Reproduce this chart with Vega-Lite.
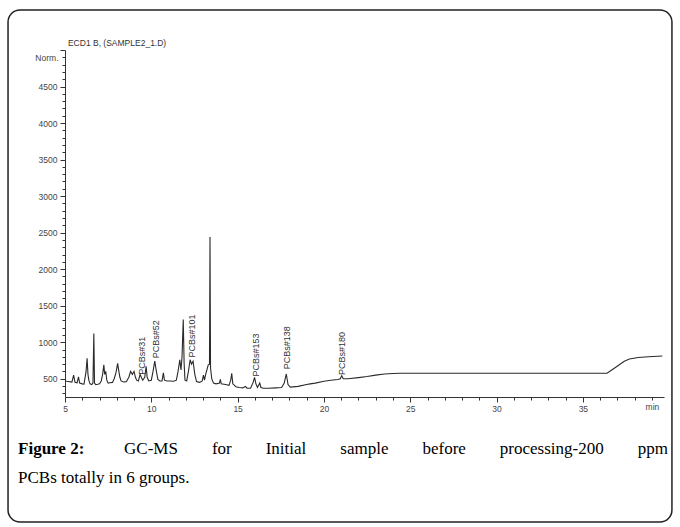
{
  "$schema": "https://vega.github.io/schema/vega-lite/v6.json",
  "width": 599,
  "height": 347,
  "autosize": {"type": "none"},
  "padding": {"left": 65, "top": 50, "right": 16, "bottom": 130},
  "background": "white",
  "config": {
    "view": {"stroke": null},
    "axis": {"grid": false, "domainColor": "#333", "tickColor": "#333", "labelColor": "#444", "labelFont": "Liberation Sans", "labelFontSize": 8.5, "titleFont": "Liberation Sans", "labelOverlap": false, "labelFlush": false, "labelBound": false}
  },
  "datasets": {
    "signal": [
      {"t": 5.00, "v": 470}, {"t": 5.10, "v": 465}, {"t": 5.40, "v": 455}, {"t": 5.50, "v": 550}, {"t": 5.58, "v": 450},
      {"t": 5.70, "v": 445}, {"t": 5.78, "v": 525}, {"t": 5.85, "v": 440}, {"t": 6.00, "v": 430}, {"t": 6.10, "v": 425},
      {"t": 6.22, "v": 600}, {"t": 6.28, "v": 780}, {"t": 6.33, "v": 560}, {"t": 6.38, "v": 480}, {"t": 6.45, "v": 430},
      {"t": 6.55, "v": 420}, {"t": 6.62, "v": 440}, {"t": 6.67, "v": 1120}, {"t": 6.71, "v": 440}, {"t": 6.78, "v": 420},
      {"t": 6.90, "v": 425}, {"t": 7.00, "v": 430}, {"t": 7.10, "v": 470}, {"t": 7.18, "v": 560}, {"t": 7.25, "v": 690},
      {"t": 7.30, "v": 560}, {"t": 7.36, "v": 600}, {"t": 7.42, "v": 480}, {"t": 7.50, "v": 440}, {"t": 7.60, "v": 445},
      {"t": 7.75, "v": 450}, {"t": 7.85, "v": 500}, {"t": 7.95, "v": 580}, {"t": 8.05, "v": 710}, {"t": 8.12, "v": 600},
      {"t": 8.18, "v": 520}, {"t": 8.25, "v": 470}, {"t": 8.40, "v": 455}, {"t": 8.55, "v": 460}, {"t": 8.70, "v": 520},
      {"t": 8.80, "v": 600}, {"t": 8.90, "v": 560}, {"t": 9.00, "v": 600}, {"t": 9.08, "v": 520}, {"t": 9.15, "v": 480},
      {"t": 9.25, "v": 470}, {"t": 9.35, "v": 560}, {"t": 9.42, "v": 520}, {"t": 9.50, "v": 480}, {"t": 9.62, "v": 520},
      {"t": 9.70, "v": 670}, {"t": 9.76, "v": 520}, {"t": 9.85, "v": 470}, {"t": 10.00, "v": 480}, {"t": 10.10, "v": 600},
      {"t": 10.20, "v": 740}, {"t": 10.28, "v": 620}, {"t": 10.38, "v": 490}, {"t": 10.50, "v": 470}, {"t": 10.62, "v": 470},
      {"t": 10.70, "v": 580}, {"t": 10.76, "v": 480}, {"t": 10.90, "v": 470}, {"t": 11.10, "v": 470}, {"t": 11.30, "v": 465},
      {"t": 11.45, "v": 480}, {"t": 11.55, "v": 600}, {"t": 11.65, "v": 760}, {"t": 11.72, "v": 620}, {"t": 11.78, "v": 800},
      {"t": 11.85, "v": 1310}, {"t": 11.90, "v": 720}, {"t": 11.95, "v": 480}, {"t": 12.05, "v": 470}, {"t": 12.15, "v": 600},
      {"t": 12.25, "v": 760}, {"t": 12.33, "v": 700}, {"t": 12.42, "v": 740}, {"t": 12.52, "v": 560}, {"t": 12.62, "v": 460},
      {"t": 12.80, "v": 450}, {"t": 12.95, "v": 470}, {"t": 13.02, "v": 550}, {"t": 13.08, "v": 480}, {"t": 13.15, "v": 560},
      {"t": 13.22, "v": 620}, {"t": 13.30, "v": 690}, {"t": 13.37, "v": 700}, {"t": 13.40, "v": 2440}, {"t": 13.43, "v": 650},
      {"t": 13.50, "v": 500}, {"t": 13.60, "v": 440}, {"t": 13.75, "v": 430}, {"t": 13.95, "v": 440}, {"t": 14.00, "v": 490},
      {"t": 14.05, "v": 430}, {"t": 14.30, "v": 420}, {"t": 14.50, "v": 410}, {"t": 14.60, "v": 480}, {"t": 14.66, "v": 575},
      {"t": 14.72, "v": 430}, {"t": 14.90, "v": 390}, {"t": 15.10, "v": 380}, {"t": 15.30, "v": 375}, {"t": 15.45, "v": 395},
      {"t": 15.55, "v": 370}, {"t": 15.75, "v": 370}, {"t": 15.90, "v": 450}, {"t": 15.98, "v": 520}, {"t": 16.06, "v": 430},
      {"t": 16.15, "v": 380}, {"t": 16.28, "v": 440}, {"t": 16.35, "v": 380}, {"t": 16.50, "v": 370}, {"t": 16.80, "v": 370},
      {"t": 17.20, "v": 375}, {"t": 17.55, "v": 380}, {"t": 17.70, "v": 440}, {"t": 17.82, "v": 565}, {"t": 17.92, "v": 420},
      {"t": 18.05, "v": 385}, {"t": 18.50, "v": 395}, {"t": 19.00, "v": 420}, {"t": 19.20, "v": 430}, {"t": 19.50, "v": 440},
      {"t": 20.00, "v": 465}, {"t": 20.40, "v": 480}, {"t": 20.80, "v": 490}, {"t": 20.95, "v": 500}, {"t": 21.03, "v": 540},
      {"t": 21.12, "v": 500}, {"t": 21.40, "v": 500}, {"t": 22.00, "v": 515}, {"t": 22.50, "v": 530}, {"t": 23.00, "v": 550},
      {"t": 23.50, "v": 565}, {"t": 24.00, "v": 572}, {"t": 24.40, "v": 575}, {"t": 30.00, "v": 575}, {"t": 36.40, "v": 575},
      {"t": 36.80, "v": 640}, {"t": 37.40, "v": 740}, {"t": 37.70, "v": 770}, {"t": 38.20, "v": 790}, {"t": 38.80, "v": 800},
      {"t": 39.60, "v": 812}
    ],
    "labels": [
      {"t": 9.44, "v": 555, "label": "PCBs#31"},
      {"t": 10.27, "v": 780, "label": "PCBs#52"},
      {"t": 12.34, "v": 790, "label": "PCBs#101"},
      {"t": 16.08, "v": 530, "label": "PCBs#153"},
      {"t": 17.84, "v": 630, "label": "PCBs#138"},
      {"t": 21.07, "v": 550, "label": "PCBs#180"}
    ]
  },
  "layer": [
    {
      "data": {"name": "signal"},
      "mark": {"type": "line", "color": "#2a2a2a", "strokeWidth": 1.1, "clip": true},
      "encoding": {
        "x": {"field": "t", "type": "quantitative",
          "scale": {"domain": [5, 39.7], "nice": false, "zero": false},
          "axis": {"title": null, "values": [5,6,7,8,9,10,11,12,13,14,15,16,17,18,19,20,21,22,23,24,25,26,27,28,29,30,31,32,33,34,35,36,37,38,39],
            "tickCount": 1000,
            "format": "d", "labelOverlap": false, "labelFlush": false,
            "labelExpr": "datum.value === 39 ? 'min' : (datum.value % 5 === 0 ? datum.label : '')",
            "tickSize": {"condition": {"test": "datum.value % 5 === 0", "value": 5}, "value": 3},
            "labelPadding": 2}},
        "y": {"field": "v", "type": "quantitative",
          "scale": {"domain": [250, 5000], "nice": false, "zero": false},
          "axis": {"title": "Norm.", "titleAngle": 0, "titleAlign": "right", "titleBaseline": "middle", "titleX": -7, "titleY": 7,
            "titleFontSize": 8.5, "titleFontWeight": "normal", "titleColor": "#444",
            "values": [300,400,500,600,700,800,900,1000,1100,1200,1300,1400,1500,1600,1700,1800,1900,2000,2100,2200,2300,2400,2500,2600,2700,2800,2900,3000,3100,3200,3300,3400,3500,3600,3700,3800,3900,4000,4100,4200,4300,4400,4500,4600,4700,4800,4900,5000],
            "tickCount": 1000,
            "format": "d", "labelOverlap": false, "labelFlush": false,
            "labelExpr": "(datum.value % 500 === 0 && datum.value <= 4500) ? datum.label : ''",
            "tickSize": {"condition": {"test": "datum.value % 500 === 0", "value": 5}, "value": 3},
            "labelPadding": 3}}
      }
    },
    {
      "data": {"name": "labels"},
      "mark": {"type": "text", "angle": 270, "align": "left", "baseline": "middle", "font": "Liberation Sans", "fontSize": 9, "color": "#333"},
      "encoding": {
        "x": {"field": "t", "type": "quantitative"},
        "y": {"field": "v", "type": "quantitative"},
        "text": {"field": "label"}
      }
    },
    {
      "data": {"values": [{}]},
      "mark": {"type": "rect", "filled": false, "stroke": "#222", "strokeWidth": 1.5, "cornerRadius": 12},
      "encoding": {"x": {"datum": 1.7}, "x2": {"datum": 40.16}, "y": {"datum": 5548}, "y2": {"datum": -1462}}
    },
    {
      "data": {"values": [{}]},
      "mark": {"type": "text", "text": "ECD1 B, (SAMPLE2_1.D)", "font": "Liberation Sans", "fontSize": 8.5, "align": "left", "baseline": "alphabetic", "color": "#333"},
      "encoding": {"x": {"datum": 5.17}, "y": {"datum": 5060}}
    },
    {
      "data": {"values": [{}]},
      "mark": {"type": "text", "text": "Figure 2:", "font": "Liberation Serif", "fontSize": 17, "fontWeight": "bold", "align": "left", "baseline": "alphabetic", "color": "#000"},
      "encoding": {"x": {"datum": 2.28}, "y": {"datum": -531}}
    },
    {
      "data": {"values": [{}]},
      "mark": {"type": "text", "text": "GC-MS\u00a0\u00a0\u00a0\u00a0\u00a0\u00a0\u00a0\u00a0for\u00a0\u00a0\u00a0\u00a0\u00a0\u00a0\u00a0\u00a0Initial\u00a0\u00a0\u00a0\u00a0\u00a0\u00a0\u00a0\u00a0sample\u00a0\u00a0\u00a0\u00a0\u00a0\u00a0\u00a0\u00a0before\u00a0\u00a0\u00a0\u00a0\u00a0\u00a0\u00a0\u00a0processing-200\u00a0\u00a0\u00a0\u00a0\u00a0\u00a0\u00a0\u00a0ppm", "font": "Liberation Serif", "fontSize": 17, "align": "right", "baseline": "alphabetic", "color": "#000"},
      "encoding": {"x": {"datum": 39.93}, "y": {"datum": -531}}
    },
    {
      "data": {"values": [{}]},
      "mark": {"type": "text", "text": "PCBs totally in 6 groups.", "font": "Liberation Serif", "fontSize": 17, "align": "left", "baseline": "alphabetic", "color": "#000"},
      "encoding": {"x": {"datum": 2.28}, "y": {"datum": -927}}
    }
  ]
}
